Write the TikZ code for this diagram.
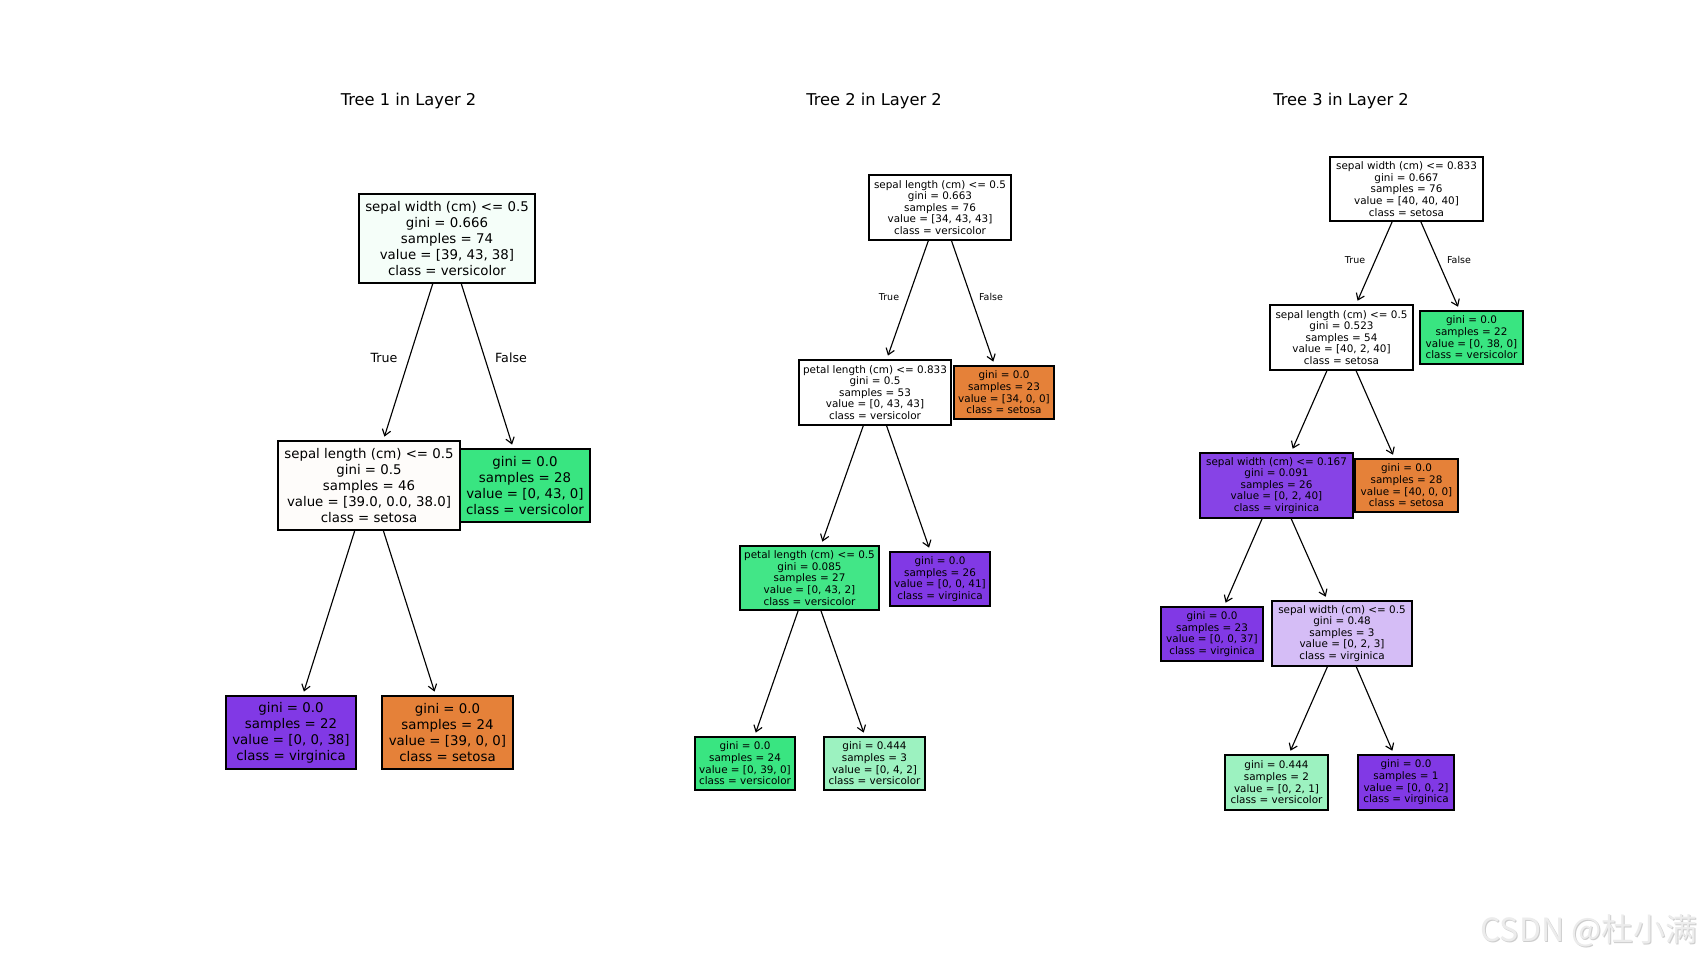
\documentclass[tikz,border=0pt]{standalone}
\usepackage{fontspec}
\setmainfont{DejaVu Sans}
\newfontfamily\cjkfont{Noto Sans CJK SC}
\usetikzlibrary{arrows.meta}
\definecolor{cgreen}{RGB}{57,229,129}
\definecolor{corange}{RGB}{229,129,57}
\definecolor{cpurple}{RGB}{129,57,229}
\definecolor{tonea}{RGB}{245,254,249}
\definecolor{toneb}{RGB}{254,252,250}
\definecolor{ttwod}{RGB}{66,230,135}
\definecolor{lgreen}{RGB}{156,242,192}
\definecolor{tthreed}{RGB}{135,67,230}
\definecolor{lpurple}{RGB}{213,189,246}
\definecolor{wmark}{RGB}{236,236,236}
\definecolor{wshadow}{RGB}{205,205,205}
\tikzset{
  box/.style={draw=black, line width=0.9pt, rectangle, inner sep=0pt, align=center, text=black},
  bigt/.style={font=\fontsize{10}{12}\selectfont},
  smallt/.style={font=\fontsize{7.8}{8.7}\selectfont},
  sz/.style 2 args={minimum width=#1*0.75pt, minimum height=#2*0.75pt},
  edge/.style={line width=0.85pt, -{Straight Barb[length=4.5pt,width=6.5pt]}, shorten >=3pt},
  biglab/.style={font=\fontsize{9.5}{11}\selectfont, inner sep=0pt},
  smalllab/.style={font=\fontsize{7.1}{8}\selectfont, inner sep=0pt},
  titlet/.style={font=\fontsize{12.2}{14}\selectfont, inner sep=0pt},
}
\begin{document}
\begin{tikzpicture}[x=0.75pt,y=-0.75pt]
\useasboundingbox[fill=white] (0,0) rectangle (1706,962);

% titles
\node[titlet] (ti1) at (408.5,101) {Tree 1 in Layer 2};
\node[titlet] (ti2) at (874,101) {Tree 2 in Layer 2};
\node[titlet] (ti3) at (1341,101) {Tree 3 in Layer 2};

% Tree 1
\node[box,bigt,sz={176}{89},fill=tonea] (t1a) at (447,238.5) {sepal width (cm) <= 0.5\\gini = 0.666\\samples = 74\\value = [39, 43, 38]\\class = versicolor};
\node[box,bigt,sz={182}{89},fill=toneb] (t1b) at (369,485.5) {sepal length (cm) <= 0.5\\gini = 0.5\\samples = 46\\value = [39.0, 0.0, 38.0]\\class = setosa};
\node[box,bigt,sz={130}{73},fill=cgreen] (t1c) at (525,485.5) {gini = 0.0\\samples = 28\\value = [0, 43, 0]\\class = versicolor};
\node[box,bigt,sz={130}{73},fill=cpurple] (t1d) at (291,732.5) {gini = 0.0\\samples = 22\\value = [0, 0, 38]\\class = virginica};
\node[box,bigt,sz={131}{73},fill=corange] (t1e) at (447.5,732.5) {gini = 0.0\\samples = 24\\value = [39, 0, 0]\\class = setosa};
\draw[edge] (t1a) -- (t1b);
\draw[edge] (t1a) -- (t1c);
\draw[edge] (t1b) -- (t1d);
\draw[edge] (t1b) -- (t1e);
\node[biglab] (l1t) at (384,358) {True};
\node[biglab] (l1f) at (511,358) {False};

% Tree 2
\node[box,smallt,sz={142}{65},fill=white] (t2a) at (940,207.5) {sepal length (cm) <= 0.5\\gini = 0.663\\samples = 76\\value = [34, 43, 43]\\class = versicolor};
\node[box,smallt,sz={152}{65},fill=white] (t2b) at (875,392.5) {petal length (cm) <= 0.833\\gini = 0.5\\samples = 53\\value = [0, 43, 43]\\class = versicolor};
\node[box,smallt,sz={100}{53},fill=corange] (t2c) at (1004,392.5) {gini = 0.0\\samples = 23\\value = [34, 0, 0]\\class = setosa};
\node[box,smallt,sz={139}{64},fill=ttwod] (t2d) at (809.5,578) {petal length (cm) <= 0.5\\gini = 0.085\\samples = 27\\value = [0, 43, 2]\\class = versicolor};
\node[box,smallt,sz={100}{54},fill=cpurple] (t2e) at (940,579) {gini = 0.0\\samples = 26\\value = [0, 0, 41]\\class = virginica};
\node[box,smallt,sz={100}{53},fill=cgreen] (t2f) at (745,763.5) {gini = 0.0\\samples = 24\\value = [0, 39, 0]\\class = versicolor};
\node[box,smallt,sz={101}{53},fill=lgreen] (t2g) at (874.5,763.5) {gini = 0.444\\samples = 3\\value = [0, 4, 2]\\class = versicolor};
\draw[edge] (t2a) -- (t2b);
\draw[edge] (t2a) -- (t2c);
\draw[edge] (t2b) -- (t2d);
\draw[edge] (t2b) -- (t2e);
\draw[edge] (t2d) -- (t2f);
\draw[edge] (t2d) -- (t2g);
\node[smalllab] (l2t) at (889,297) {True};
\node[smalllab] (l2f) at (991,297) {False};

% Tree 3
\node[box,smallt,sz={153}{64},fill=white] (t3a) at (1406.5,189) {sepal width (cm) <= 0.833\\gini = 0.667\\samples = 76\\value = [40, 40, 40]\\class = setosa};
\node[box,smallt,sz={143}{65},fill=white] (t3b) at (1341.5,337.5) {sepal length (cm) <= 0.5\\gini = 0.523\\samples = 54\\value = [40, 2, 40]\\class = setosa};
\node[box,smallt,sz={103}{53},fill=cgreen] (t3c) at (1471.5,337.5) {gini = 0.0\\samples = 22\\value = [0, 38, 0]\\class = versicolor};
\node[box,smallt,sz={153}{65},fill=tthreed] (t3d) at (1276.5,485.5) {sepal width (cm) <= 0.167\\gini = 0.091\\samples = 26\\value = [0, 2, 40]\\class = virginica};
\node[box,smallt,sz={103}{53},fill=corange] (t3e) at (1406.5,485.5) {gini = 0.0\\samples = 28\\value = [40, 0, 0]\\class = setosa};
\node[box,smallt,sz={102}{54},fill=cpurple] (t3f) at (1212,634) {gini = 0.0\\samples = 23\\value = [0, 0, 37]\\class = virginica};
\node[box,smallt,sz={140}{65},fill=lpurple] (t3g) at (1342,633.5) {sepal width (cm) <= 0.5\\gini = 0.48\\samples = 3\\value = [0, 2, 3]\\class = virginica};
\node[box,smallt,sz={103}{55},fill=lgreen] (t3h) at (1276.5,782.5) {gini = 0.444\\samples = 2\\value = [0, 2, 1]\\class = versicolor};
\node[box,smallt,sz={96}{55},fill=cpurple] (t3i) at (1406,782.5) {gini = 0.0\\samples = 1\\value = [0, 0, 2]\\class = virginica};
\draw[edge] (t3a) -- (t3b);
\draw[edge] (t3a) -- (t3c);
\draw[edge] (t3b) -- (t3d);
\draw[edge] (t3b) -- (t3e);
\draw[edge] (t3d) -- (t3f);
\draw[edge] (t3d) -- (t3g);
\draw[edge] (t3g) -- (t3h);
\draw[edge] (t3g) -- (t3i);
\node[smalllab] (l3t) at (1355,260) {True};
\node[smalllab] (l3f) at (1459,260) {False};

% watermark
\node[font=\cjkfont\fontsize{24}{26}\selectfont, text=wshadow, inner sep=0pt] (wms) at (1590,932) {CSDN @杜小满};
\node[font=\cjkfont\fontsize{24}{26}\selectfont, text=wmark, inner sep=0pt] (wm) at (1589,931) {CSDN @杜小满};
\end{tikzpicture}
\end{document}
